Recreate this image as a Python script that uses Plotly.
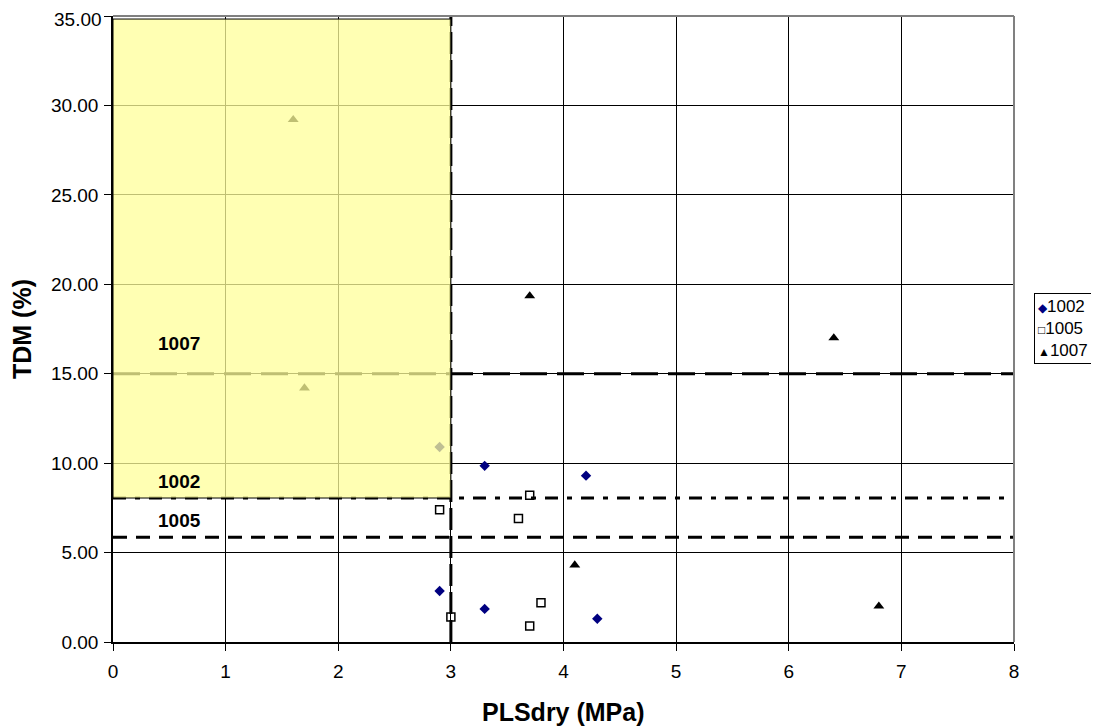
import plotly.graph_objects as go

# ---- data ----
x_1002 = [2.9, 3.3, 4.2, 2.9, 3.3, 4.3]
y_1002 = [10.9, 9.85, 9.3, 2.85, 1.85, 1.3]
x_1005 = [2.9, 3.0, 3.7, 3.6, 3.8, 3.7]
y_1005 = [7.4, 1.4, 8.2, 6.9, 2.2, 0.9]
x_1007 = [1.6, 1.7, 3.7, 6.4, 4.1, 6.8]
y_1007 = [29.2, 14.2, 19.35, 17.0, 4.3, 2.0]

series_names = ["1002", "1005", "1007"]

y_ticks = [0, 5, 10, 15, 20, 25, 30, 35]

limit_1007 = 15.0
limit_1002 = 8.05
limit_1005 = 5.85
limit_pls = 3.0
zone_top = 34.83

label_names = ["1007", "1002", "1005"]
label_x = [0.59, 0.59, 0.59]
label_y = [16.7, 8.97, 6.82]

FONT = "Arial, Liberation Sans, sans-serif"

fig = go.Figure()

# threshold lines
fig.add_trace(go.Scatter(x=[0, 8], y=[limit_1007] * 2, mode="lines", showlegend=False,
                         line=dict(color="black", width=3, dash="27px,10px"), hoverinfo="skip"))
fig.add_trace(go.Scatter(x=[0, 8], y=[limit_1002] * 2, mode="lines", showlegend=False,
                         line=dict(color="black", width=3, dash="13px,9px,5px,9px"), hoverinfo="skip"))
fig.add_trace(go.Scatter(x=[0, 8], y=[limit_1005] * 2, mode="lines", showlegend=False,
                         line=dict(color="black", width=3, dash="14px,9px"), hoverinfo="skip"))
fig.add_trace(go.Scatter(x=[limit_pls] * 2, y=[0, 35], mode="lines", showlegend=False,
                         line=dict(color="black", width=3, dash="22px,6px"), hoverinfo="skip"))

# series
fig.add_trace(go.Scatter(x=x_1002, y=y_1002, mode="markers", name=series_names[0], showlegend=False,
                         marker=dict(symbol="diamond", color="#000080", size=8)))
fig.add_trace(go.Scatter(x=x_1005, y=y_1005, mode="markers", name=series_names[1], showlegend=False,
                         marker=dict(symbol="square-open", color="black", size=8,
                                     line=dict(width=1.5, color="black"))))
fig.add_trace(go.Scatter(x=x_1007, y=y_1007, mode="markers", name=series_names[2], showlegend=False,
                         marker=dict(symbol="triangle-up", color="black", size=9.5)))

# yellow zone (semi-transparent, above data)
fig.add_shape(type="rect", xref="x", yref="y", x0=0, x1=limit_pls, y0=limit_1002, y1=zone_top,
              fillcolor="rgba(255,255,153,0.75)", line=dict(color="black", width=1), layer="above")

# plot border top/right (gray)
fig.add_shape(type="line", xref="paper", yref="paper", x0=0, x1=1, y0=1, y1=1,
              line=dict(color="#808080", width=2), layer="above")
fig.add_shape(type="line", xref="paper", yref="paper", x0=1, x1=1, y0=0, y1=1,
              line=dict(color="#808080", width=2), layer="above")

for name, lx, ly in zip(label_names, label_x, label_y):
    fig.add_annotation(x=lx, y=ly, text=f"<b>{name}</b>", showarrow=False,
                       font=dict(family=FONT, size=19, color="black"))

# top y tick label placed as annotation (nudged so it is not clipped by the page edge)
fig.add_annotation(xref="paper", yref="y", x=0, y=y_ticks[-1], xanchor="right", yanchor="middle",
                   xshift=-9, yshift=-3, text=f"{y_ticks[-1]:.2f}", showarrow=False,
                   font=dict(family=FONT, size=19, color="black"))

# axis titles
fig.add_annotation(xref="paper", yref="paper", x=0.5, y=0, yshift=-70, yanchor="middle",
                   text="<b>PLSdry (MPa)</b>", showarrow=False,
                   font=dict(family=FONT, size=25, color="black"))
fig.add_annotation(xref="paper", yref="paper", x=0, y=0.5, xshift=-91, xanchor="center",
                   textangle=-90, text="<b>TDM (%)</b>", showarrow=False,
                   font=dict(family=FONT, size=25, color="black"))

# legend (drawn as a bordered text box)
legend_symbols = ["<span style='color:#000080;font-size:12px'>◆</span>",
                  "<span style='font-size:12px'>□</span>",
                  "<span style='font-size:12px'>▲</span>"]
legend_text = "<br>".join(s + n for s, n in zip(legend_symbols, series_names))
fig.add_annotation(xref="paper", yref="paper", x=1.0549, y=0.5008, xanchor="center",
                   yanchor="middle", text=legend_text, showarrow=False, align="left",
                   bordercolor="black", borderwidth=1, borderpad=3, bgcolor="white",
                   font=dict(family=FONT, size=17, color="black"))

fig.update_layout(
    width=1091, height=719,
    margin=dict(l=105, r=85, t=8, b=85, autoexpand=False),
    paper_bgcolor="white", plot_bgcolor="white",
    font=dict(family=FONT, size=19, color="black"),
    showlegend=False,
)
fig.update_xaxes(range=[0, 8], dtick=1, tick0=0, showgrid=True, gridcolor="black", gridwidth=1,
                 showline=True, linecolor="black", linewidth=1.5, ticks="outside", ticklen=7,
                 tickcolor="black", zeroline=False, automargin=False, ticklabelstandoff=4,
                 ticklabeloverflow="allow")
fig.update_yaxes(range=[0, 35], tickmode="array", tickvals=y_ticks,
                 ticktext=[f"{v:.2f}" for v in y_ticks[:-1]] + [""],
                 showgrid=True, gridcolor="black",
                 gridwidth=1, showline=True, linecolor="black", linewidth=1.5, ticks="outside",
                 ticklen=7, tickcolor="black", zeroline=False, automargin=False, ticklabelstandoff=2,
                 ticklabeloverflow="allow")

fig.write_html("out.html")
